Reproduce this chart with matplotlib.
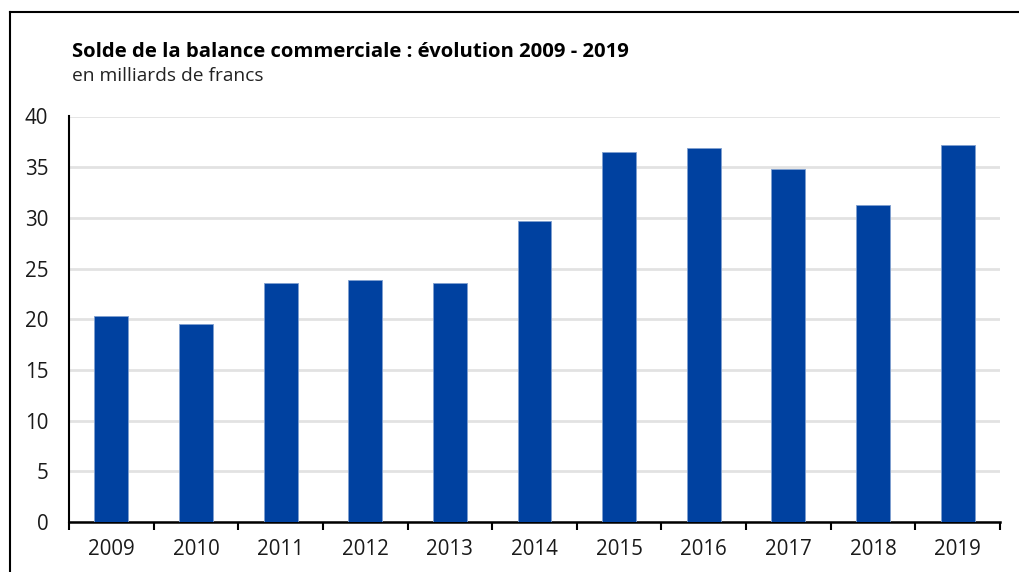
import matplotlib
matplotlib.use("Agg")
import matplotlib.pyplot as plt
from matplotlib.lines import Line2D
import numpy as np

plt.rcParams['font.family'] = ['Open Sans', 'DejaVu Sans']

years = ["2009", "2010", "2011", "2012", "2013", "2014", "2015", "2016", "2017", "2018", "2019"]
balance = [20.3, 19.5, 23.6, 23.9, 23.6, 29.7, 36.5, 36.9, 34.8, 31.3, 37.2]
y_ticks = [0, 5, 10, 15, 20, 25, 30, 35, 40]

title = "Solde de la balance commerciale : évolution 2009 - 2019"
subtitle = "en milliards de francs"

W, H = 1019, 572
fig = plt.figure(figsize=(W / 100, H / 100), dpi=100)
ax = fig.add_axes([69 / W, 1 - 522 / H, (1000 - 69) / W, (522 - 116.5) / H])

x = np.arange(len(years))
ax.bar(x, balance, width=0.4, color="#0041A0", edgecolor="#7f9fd0", linewidth=0.6, zorder=3)

ax.set_xlim(-0.5, len(years) - 0.5)
ax.set_ylim(0, 40)
ax.set_yticks(y_ticks)
ax.set_yticklabels([str(v) for v in y_ticks], fontsize=14.8, color="#1a1a1a")
ax.tick_params(axis="y", length=0, pad=15)
ax.yaxis.grid(True, color="#e2e2e2", linewidth=2, zorder=0)

# year labels centred under bars, tick marks on category boundaries
ax.set_xticks(np.arange(len(years) + 1) - 0.5)
ax.set_xticklabels([])
ax.set_xticks(x, minor=True)
ax.set_xticklabels(years, minor=True, fontsize=14.8, color="#1a1a1a")
ax.tick_params(axis="x", which="major", length=6, width=1.5, color="black", direction="out")
ax.tick_params(axis="x", which="minor", length=0, pad=12)

for side in ("top", "right"):
    ax.spines[side].set_visible(False)
ax.spines["left"].set_linewidth(1.5)
ax.spines["bottom"].set_linewidth(1.8)

fig.text(72 / W, 1 - 57 / H, title, fontsize=14.6, fontweight="bold", color="black", ha="left", va="baseline")
fig.text(72 / W, 1 - 81 / H, subtitle, fontsize=13.8, color="#222222", ha="left", va="baseline")

# outer frame (left and top edges)
fig.add_artist(Line2D([9.5 / W, 9.5 / W], [0, 1 - 12 / H], transform=fig.transFigure, color="black", linewidth=1.5))
fig.add_artist(Line2D([9.5 / W, 1], [1 - 12 / H, 1 - 12 / H], transform=fig.transFigure, color="black", linewidth=1.5))

fig.savefig("out.png", dpi=100, facecolor="white")
